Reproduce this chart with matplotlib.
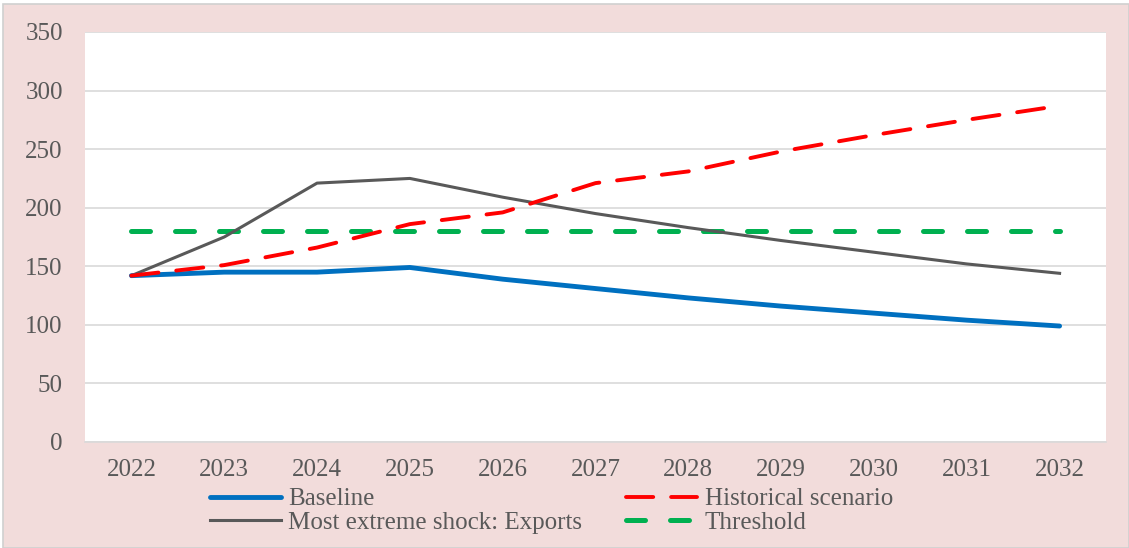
import matplotlib
matplotlib.use("Agg")
import matplotlib.pyplot as plt
from matplotlib.patches import Rectangle

# data
years = ["2022", "2023", "2024", "2025", "2026", "2027",
         "2028", "2029", "2030", "2031", "2032"]
baseline = [142, 145, 145, 149, 139, 131, 123, 116, 110, 104, 99]
historical = [142, 151, 166, 186, 196, 221, 231, 248, 262, 275, 287]
extreme_exports = [142, 175, 221, 225, 209, 195, 183, 172, 162, 152, 144]
threshold = [180] * len(years)

plt.rcParams['font.family'] = ['Liberation Serif', 'DejaVu Serif']

fig = plt.figure(figsize=(11.29, 5.48), dpi=100, facecolor="white")
# pink chart area with a thin grey border, kept behind the axes
fig.patches.append(Rectangle((3 / 1129, 0), 1 - 3 / 1129, 544 / 548,
                             transform=fig.transFigure, facecolor="#F2DCDB",
                             edgecolor="#D0D0D0", linewidth=1.2, zorder=-10))

ax = fig.add_axes([85 / 1129, 106 / 548, 1021 / 1129, 410 / 548])
ax.set_facecolor("white")

x = list(range(len(years)))
ax.plot(x, baseline, color="#0070C0", lw=3.5, solid_capstyle="round",
        label="Baseline", zorder=4)
ax.plot(x, extreme_exports, color="#595959", lw=2.2,
        label="Most extreme shock: Exports", zorder=3)
ax.plot(x, historical, color="#FF0000", lw=2.8, dashes=(7.0, 4.6),
        dash_capstyle="round", label="Historical scenario", zorder=5)
ax.plot(x, threshold, color="#00B050", lw=3.6, dashes=(3.8, 5.0),
        dash_capstyle="round", label="Threshold", zorder=2)

ax.set_xlim(-0.5, 10.5)
ax.set_ylim(0, 350)
ax.set_yticks(range(0, 351, 50))
ax.set_xticks(x)
ax.set_xticklabels(years)
ax.grid(axis="y", color="#D9D9D9", lw=1.2)
ax.set_axisbelow(True)
for s in ["top", "right", "left"]:
    ax.spines[s].set_visible(False)
ax.spines["bottom"].set_color("#D9D9D9")
ax.spines["bottom"].set_linewidth(1.2)
ax.tick_params(length=0, labelsize=18, colors="#595959")
ax.tick_params(axis="y", pad=16)
ax.tick_params(axis="x", pad=12)

handles, labels = ax.get_legend_handles_labels()
ax.legend(handles, labels, ncol=2, loc="upper left",
          bbox_to_anchor=(0.122, -0.112), frameon=False, fontsize=18,
          handlelength=2.85, handletextpad=0.3, columnspacing=1.75,
          labelspacing=0.03, borderaxespad=0, borderpad=0,
          labelcolor="#595959")

fig.savefig("out.png", dpi=100, facecolor=fig.get_facecolor())
